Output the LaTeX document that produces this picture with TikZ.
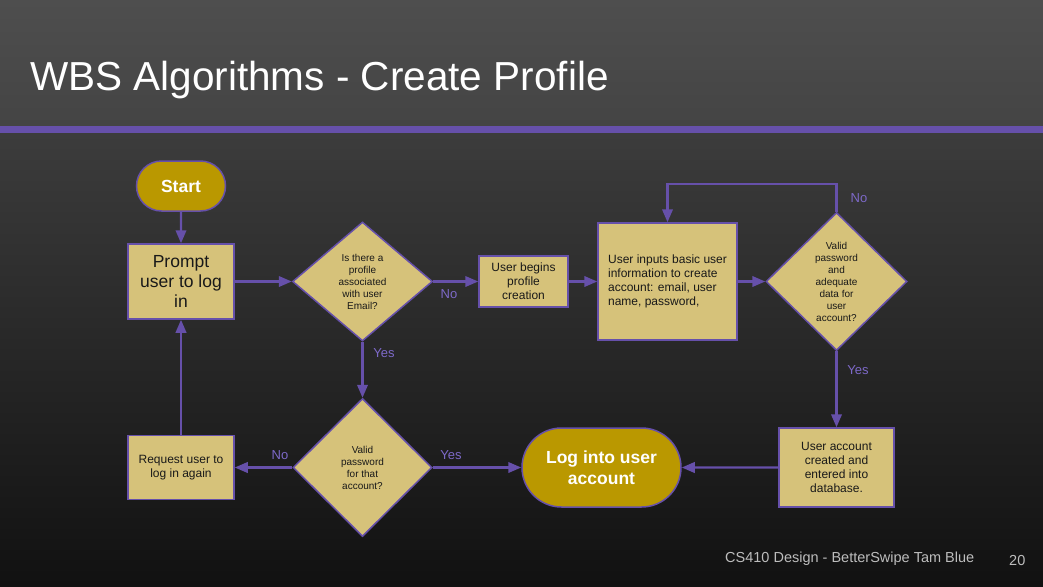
\documentclass[tikz,border=0pt]{standalone}
\usepackage{fontspec}
\setmainfont{Liberation Sans}
\usetikzlibrary{shapes,arrows.meta,positioning,calc}
\definecolor{flowLine}{HTML}{6650AA}
\definecolor{boxFill}{HTML}{D6C27A}
\definecolor{termFill}{HTML}{BA9800}
\definecolor{answerText}{HTML}{7D69C8}
\definecolor{slideTop}{HTML}{4E4E4E}
\definecolor{slideBand}{HTML}{444444}
\definecolor{slideMid}{HTML}{3C3C3C}
\definecolor{slideLow}{HTML}{111111}
\definecolor{footGray}{HTML}{BDBDBD}

\begin{document}
\begin{tikzpicture}[x=1pt,y=-1pt,
    flow/.style={draw=flowLine,line width=2.2pt,-{Triangle[length=13pt,width=10.5pt]}},
    terminal/.style={rounded rectangle,draw=flowLine,line width=1.5pt,fill=termFill,
      text=white,font=\fontsize{17.5}{21}\selectfont\bfseries,align=center,inner sep=0pt},
    process/.style={rectangle,draw=flowLine,line width=1.5pt,fill=boxFill,text=black!90,
      font=\fontsize{12}{14}\selectfont,align=center,inner sep=0pt},
    decision/.style={diamond,draw=flowLine,line width=1.5pt,fill=boxFill,text=black!90,
      font=\fontsize{10}{12}\selectfont,align=center,inner sep=0pt},
    answer/.style={text=answerText,font=\fontsize{13}{15}\selectfont,inner sep=0pt}]

  \useasboundingbox (0,0) rectangle (1043,586);

  % draw the slide background
  \shade[top color=slideTop,bottom color=slideBand] (0,0) rectangle (1043,126);
  \fill[flowLine] (0,126) rectangle (1043,133);
  \shade[top color=slideMid,bottom color=slideLow] (0,133) rectangle (1043,586);

  \node[anchor=base west,text=white,font=\fontsize{40.5}{44}\selectfont,inner sep=0pt]
    (title) at (30,90) {WBS Algorithms - Create Profile};

  \def\rowA{281.5}
  \def\rowB{467.5}

  % draw the flow chart nodes
  \node[terminal,minimum width=89pt,minimum height=50pt] (start) at (181,186) {Start};
  \node[process,minimum width=106pt,minimum height=75pt,font=\fontsize{17.5}{20}\selectfont]
    (prompt) at (181,\rowA) {Prompt\\user to log\\in};
  \node[decision,minimum width=140pt,minimum height=119pt] (profile) at (362.5,\rowA)
    {Is there a\\profile\\associated\\with user\\Email?};
  \node[process,minimum width=89pt,minimum height=51pt] (begins) at (523.5,\rowA)
    {User begins\\profile\\creation};
  \node[process,minimum width=139pt,minimum height=117pt,align=left] (inputs) at (667.5,\rowA)
    {User inputs basic user\\information to create\\account: email, user\\name, password,};
  \node[decision,minimum width=141pt,minimum height=138pt] (valid) at (836.5,\rowA)
    {Valid\\password\\and\\adequate\\data for\\user\\account?};

  \node[process,minimum width=106pt,minimum height=64pt] (again) at (181,\rowB)
    {Request user to\\log in again};
  \node[decision,minimum width=139pt,minimum height=138pt] (password) at (362.5,\rowB)
    {Valid\\password\\for that\\account?};
  \node[terminal,minimum width=159pt,minimum height=79pt] (login) at (601.5,\rowB)
    {Log into user\\account};
  \node[process,minimum width=115pt,minimum height=79pt] (created) at (836.5,\rowB)
    {User account\\created and\\entered into\\database.};

  % draw the connectors
  \draw[flow] (start) -- (prompt);
  \draw[flow] (prompt) -- (profile);
  \draw[flow] (profile) -- (begins);
  \draw[flow] (begins) -- (inputs);
  \draw[flow] (inputs) -- (valid);
  \draw[flow] (valid.north) -- ++(0,-28) -| (inputs.north);
  \draw[flow] (valid) -- (created);
  \draw[flow] (created) -- (login);
  \draw[flow] (profile) -- (password);
  \draw[flow] (password) -- (login);
  \draw[flow] (password) -- (again);
  \draw[flow] (again) -- (prompt);

  % label the answers
  \foreach \lbl/\lx/\ly/\txt in {noProfile/449/294/No, yesProfile/384/353/Yes,
      noValid/859/198/No, yesValid/858/370/Yes, noPassword/280/455/No, yesPassword/451/455/Yes}
    \node[answer] (\lbl) at (\lx,\ly) {\txt};

  % footer
  \node[anchor=base west,text=footGray,font=\fontsize{14.5}{16}\selectfont,inner sep=0pt]
    (footer) at (725,562) {CS410 Design - BetterSwipe Tam Blue};
  \node[anchor=base west,text=footGray,font=\fontsize{14.5}{16}\selectfont,inner sep=0pt]
    (pageNum) at (1009,565) {20};

\end{tikzpicture}
\end{document}
